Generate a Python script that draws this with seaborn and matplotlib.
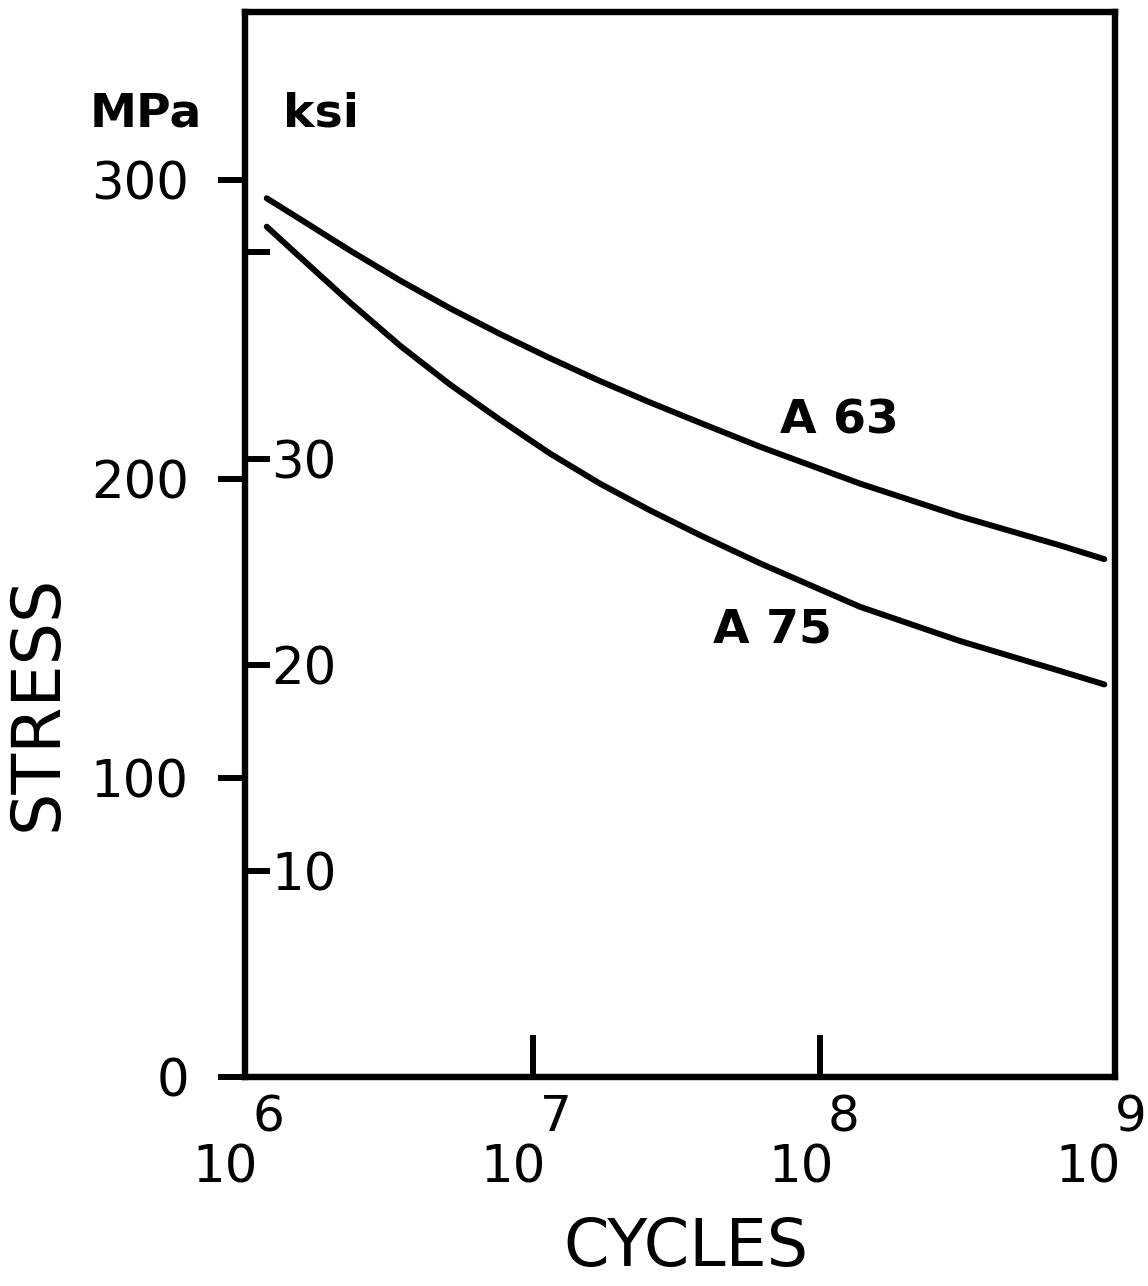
import matplotlib
matplotlib.use("Agg")
import matplotlib.pyplot as plt
import matplotlib.transforms as mtransforms
import matplotlib.ticker as mticker
import pandas as pd
import seaborn as sns

# Fatigue (S-N) curves for two alloys, stress in MPa against cycles
cycles = [1.19e6, 1.55e6, 2.32e6, 3.46e6, 5.16e6, 7.7e6, 1.15e7, 1.71e7,
          2.56e7, 3.82e7, 6.17e7, 1.37e8, 3.06e8, 6.81e8, 9.7e8]
stress_a63 = [293.9, 287.0, 276.4, 266.4, 257.1, 248.5, 240.4, 232.8,
              225.6, 218.8, 210.8, 198.5, 187.5, 177.8, 173.2]
stress_a75 = [284.4, 274.3, 259.0, 244.6, 231.6, 219.8, 208.5, 198.5,
              189.5, 181.2, 171.8, 157.3, 145.8, 135.8, 131.3]
series_names = ["A 63", "A 75"]
label_cycles = [1.16e8, 6.8e7]
label_stress = [219.4, 149.5]

mpa_ticks = [0, 100, 200, 300]
ksi_ticks = [10, 20, 30, 40]
ksi_labels = ["10", "20", "30", ""]
decade_exponents = [6, 7, 8, 9]
MPA_PER_KSI = 6.895

df = pd.DataFrame({
    "cycles": cycles * 2,
    "stress": stress_a63 + stress_a75,
    "alloy": [series_names[0]] * len(cycles) + [series_names[1]] * len(cycles),
})

sns.set_theme(style="white")
plt.rcParams["font.family"] = ["DejaVu Sans"]
plt.rcParams.update({
    "text.color": "black",
    "axes.labelcolor": "black",
    "xtick.color": "black",
    "ytick.color": "black",
})

W, H = 1148, 1286
fig = plt.figure(figsize=(W / 100, H / 100), dpi=100)
ax = fig.add_axes([245 / W, 1 - 1077 / H, 870 / W, 1065 / H])

sns.lineplot(data=df, x="cycles", y="stress", hue="alloy",
             palette=["black", "black"], linewidth=4.3, legend=False,
             ax=ax, solid_capstyle="round", solid_joinstyle="round")

ax.set_xscale("log")
ax.set_xlim(1e6, 10 ** 9.024)
ax.set_ylim(0, 356.2)

for s in ax.spines.values():
    s.set_visible(True)
    s.set_color("black")
    s.set_linewidth(4.6)

# MPa scale: outward ticks on the left
ax.set_yticks(mpa_ticks)
ax.set_yticklabels([str(v) for v in mpa_ticks])
ax.tick_params(axis="y", which="major", direction="out", length=19.5,
               width=4.3, color="black", labelcolor="black", pad=21,
               labelsize=37, left=True)
ax.yaxis.get_major_ticks()[0].tick1line.set_visible(False)

# Decade ticks point inward from the bottom
ax.set_xticks([10.0 ** e for e in decade_exponents[1:-1]])
ax.xaxis.set_minor_locator(mticker.NullLocator())
ax.tick_params(axis="x", which="major", direction="in", length=30,
               width=4.3, color="black", labelbottom=False, bottom=True)

# Power-of-ten labels drawn as base plus raised exponent
btrans = mtransforms.blended_transform_factory(ax.transData, ax.transAxes)
base_tr = mtransforms.offset_copy(btrans, fig=fig, x=13, y=0, units="dots")
exp_tr = mtransforms.offset_copy(btrans, fig=fig, x=7, y=0, units="dots")
for e in decade_exponents:
    ax.text(10.0 ** e, -0.0856, "10", transform=base_tr, ha="right",
            va="center", fontsize=37, color="black", clip_on=False)
    ax.text(10.0 ** e, -0.0377, str(e), transform=exp_tr, ha="left",
            va="center", fontsize=36, color="black", clip_on=False)

# ksi scale: ticks pointing into the plot from the left spine
tw = ax.twinx()
tw.set_ylim(0, 356.2 / MPA_PER_KSI)
tw.spines["right"].set_position(("axes", 0))
for s in tw.spines.values():
    s.set_visible(False)
tw.yaxis.set_ticks_position("right")
tw.set_yticks(ksi_ticks)
tw.set_yticklabels(ksi_labels)
tw.tick_params(axis="y", direction="out", length=18, width=4.3,
               color="black", labelcolor="black", pad=1, labelsize=37)
tw.grid(False)

ax.text(-0.0494, 0.904, "MPa", transform=ax.transAxes, ha="right",
        va="center", fontsize=34, fontweight="bold", color="black",
        clip_on=False)
ax.text(0.0437, 0.904, "ksi", transform=ax.transAxes, ha="left",
        va="center", fontsize=34, fontweight="bold", color="black",
        clip_on=False)

for name, xc, yc in zip(series_names, label_cycles, label_stress):
    ax.text(xc, yc, name, ha="center", va="center", fontsize=34,
            fontweight="bold", color="black")

ax.set_xlabel("CYCLES", fontsize=47, va="center", ha="center", color="black")
ax.xaxis.set_label_coords(0.507, -0.161)
ax.set_ylabel("STRESS", fontsize=48, va="center", ha="center", color="black")
ax.yaxis.set_label_coords(-0.238, 0.351)
ax.grid(False)

fig.savefig("out.png", dpi=100, facecolor="white")
